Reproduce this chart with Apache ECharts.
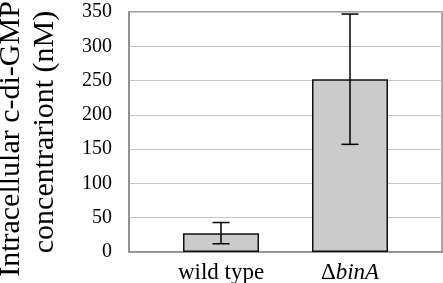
<!DOCTYPE html>
<html><head><meta charset="utf-8">
<script src="https://cdn.jsdelivr.net/npm/echarts@6/dist/echarts.min.js"></script>
<style>html,body{margin:0;padding:0;background:#fff}#c{width:443px;height:283px}</style>
</head><body><div id="c"></div>
<script>
const categories = ['wild type', 'ΔbinA'];
const means = [27.5, 252];
const errors = [15.5, 95];
const yTicks = [0, 50, 100, 150, 200, 250, 300, 350];

const chart = echarts.init(document.getElementById('c'), null, {renderer: 'canvas'});
const font = 'Liberation Serif';
const G = {top: 12, bottom: 31};
const errData = categories.map((c, i) => [i, means[i] - errors[i], means[i] + errors[i]]);

chart.setOption({
  animation: false,
  textStyle: {fontFamily: font},
  grid: [
    {left: 129, right: 1, top: G.top, bottom: G.bottom, show: true, borderColor: '#8a8a8a', borderWidth: 1.5, backgroundColor: 'transparent', containLabel: false, outerBoundsMode: 'none'},
    {left: 156.5, width: 258, top: G.top, bottom: G.bottom, containLabel: false, outerBoundsMode: 'none'}
  ],
  xAxis: [
    {gridIndex: 0, type: 'value', min: 0, max: 1, show: true, axisLine: {show: true, lineStyle: {color: '#8a8a8a', width: 1.5}}, axisTick: {show: false}, axisLabel: {show: false}, splitLine: {show: false}},
    {gridIndex: 1, type: 'category', data: categories, axisLine: {show: false}, axisTick: {show: false},
     axisLabel: {margin: 9, fontFamily: font, fontSize: 23, color: '#000',
       formatter: v => v === 'ΔbinA' ? 'Δ{i|binA}' : v,
       rich: {i: {fontFamily: font, fontSize: 23, fontStyle: 'italic', color: '#000'}}}}
  ],
  yAxis: [
    {gridIndex: 0, type: 'value', min: 0, max: 350, interval: 50,
     axisLine: {show: true, lineStyle: {color: '#8a8a8a', width: 1.5}}, axisTick: {show: false},
     axisLabel: {margin: 17, fontFamily: font, fontSize: 20, color: '#000', formatter: v => yTicks.includes(v) ? String(v) : ''},
     splitLine: {show: true, lineStyle: {color: '#c4c4c4', width: 1}},
     name: '{a|Intracellular c-di-GMP}\n{b|concentrariont (nM)}', nameLocation: 'middle', nameRotate: 90, nameGap: 67,
     nameTextStyle: {fontFamily: font, fontSize: 30, lineHeight: 34, color: '#000',
       rich: {a: {fontFamily: font, fontSize: 30, lineHeight: 34, color: '#000', padding: [0, 14, 0, 0]},
              b: {fontFamily: font, fontSize: 30, lineHeight: 34, color: '#000'}}}},
    {gridIndex: 1, type: 'value', min: 0, max: 350, interval: 50, show: false}
  ],
  series: [
    {type: 'bar', xAxisIndex: 1, yAxisIndex: 1, data: means, barWidth: 76,
     itemStyle: {color: '#cbcbcb', borderColor: '#111', borderWidth: 1.5}},
    {type: 'custom', xAxisIndex: 1, yAxisIndex: 1, data: errData, z: 10,
     renderItem: (params, api) => {
       const x = api.value(0);
       const lo = api.coord([x, api.value(1)]);
       const hi = api.coord([x, api.value(2)]);
       const hw = 8.5;
       const st = {stroke: '#000', lineWidth: 1.5};
       return {type: 'group', children: [
         {type: 'line', shape: {x1: lo[0], y1: lo[1], x2: hi[0], y2: hi[1]}, style: st},
         {type: 'line', shape: {x1: lo[0] - hw, y1: lo[1], x2: lo[0] + hw, y2: lo[1]}, style: st},
         {type: 'line', shape: {x1: hi[0] - hw, y1: hi[1], x2: hi[0] + hw, y2: hi[1]}, style: st}
       ]};
     }}
  ]
});
</script></body></html>
